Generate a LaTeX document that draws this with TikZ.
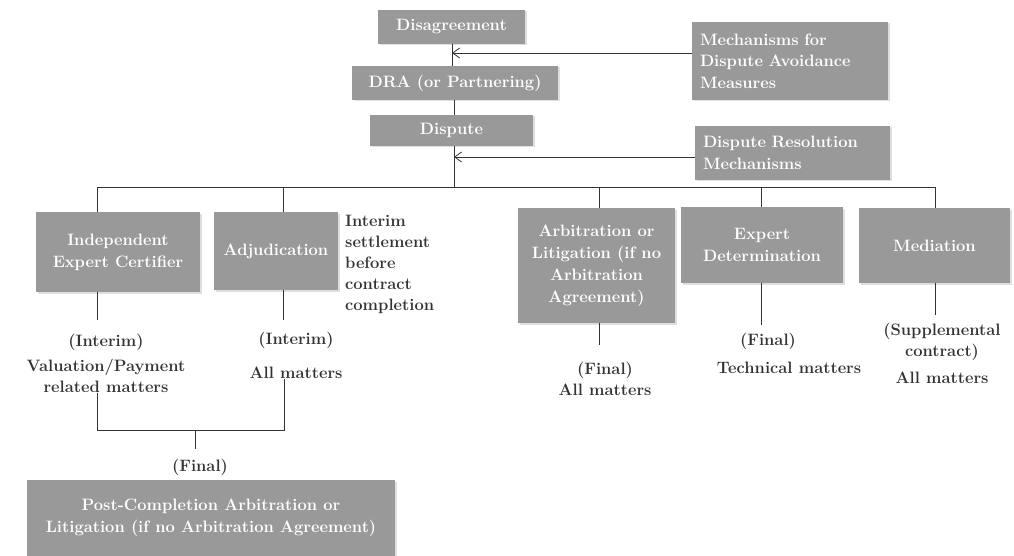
\documentclass[tikz,border=0pt]{standalone}
\usepackage{tikz}
\usetikzlibrary{arrows.meta,positioning,calc,shadows}
\definecolor{boxgray}{HTML}{999999}
\definecolor{ink}{HTML}{333333}

\begin{document}
\begin{tikzpicture}[x=1pt,y=-1pt,
  box/.style={fill=boxgray,text=white,align=center,inner sep=2pt,
    font=\fontsize{16.5}{22}\selectfont\bfseries,
    drop shadow={opacity=0.25,shadow xshift=1.5pt,shadow yshift=-1.5pt}},
  sidebox/.style={box,align=left,inner xsep=8pt,font=\fontsize{16.5}{21.5}\selectfont\bfseries},
  note/.style={text=ink,align=center,inner sep=1pt,font=\fontsize{16.5}{21}\selectfont\bfseries},
  link/.style={draw=ink,line width=0.8pt},
  tip/.style={link,-{Straight Barb[length=7pt,width=10pt]}}]
\useasboundingbox (0,0) rectangle (1014,556);

% upper chain
\node[box,minimum width=147pt,minimum height=34pt] (dis) at (451.5,27) {Disagreement};
\node[box,minimum width=206pt,minimum height=34pt] (dra) at (455,83) {DRA (or Partnering)};
\node[box,minimum width=163pt,minimum height=31pt] (dsp) at (451.5,130.5) {Dispute};
\node[sidebox,text width=180pt,minimum height=78pt] (avoid) at (790,61)
  {Mechanisms for\\Dispute Avoidance\\Measures};
\node[sidebox,text width=179pt,minimum height=54pt] (drm) at (792.5,153)
  {Dispute Resolution\\Mechanisms};

% the five routes
\node[box,minimum width=164pt,minimum height=80pt] (iec) at (118,252) {Independent\\Expert Certifier};
\node[box,minimum width=124pt,minimum height=78pt] (adj) at (276,251) {Adjudication};
\node[box,minimum width=157pt,minimum height=115pt] (arb) at (596.5,265.5)
  {Arbitration or\\Litigation (if no\\Arbitration\\Agreement)};
\node[box,minimum width=162pt,minimum height=76pt] (exp) at (762,245) {Expert\\Determination};
\node[box,minimum width=151pt,minimum height=75pt] (med) at (934.5,245.5) {Mediation};
\node[box,minimum width=368pt,minimum height=76pt] (post) at (211,518)
  {Post-Completion Arbitration or\\Litigation (if no Arbitration Agreement)};

% notes
\node[note,align=left,anchor=north west] (adjside) at (344,214)
  {Interim\\settlement\\before\\contract\\completion};
\node[note] (iecnote) at (106,363) {(Interim)\\[4pt]Valuation/Payment\\related matters};
\node[note] (adjnote) at (296,355) {(Interim)\\[13pt]All matters};
\node[note] (arbnote) at (605,379) {(Final)\\All matters};
\node[note] (expfin) at (768,341) {(Final)};
\node[note] (exptec) at (789,368) {Technical matters};
\node[note] (mednote) at (942,353) {(Supplemental\\contract)\\[6pt]All matters};
\node[note] (fnl) at (200,467) {(Final)};

% connectors
\coordinate (t1) at (452,53);
\coordinate (t2) at (454,157);
\coordinate (b-iec) at (97,187);
\coordinate (b-adj) at (283,187);
\coordinate (b-arb) at (599,187);
\coordinate (b-exp) at (761,187);
\coordinate (b-med) at (935,187);
\coordinate (m1) at (97,430);
\coordinate (m2) at (284,430);
\coordinate (m0) at (195,430);

\draw[link] (dis.south -| t1) -- (t1 |- dra.north);
\draw[tip] (avoid.west |- t1) -- (t1);
\draw[link] (dsp.north -| t2) -- (t2 |- dra.south);
\draw[tip] (drm.west |- t2) -- (t2);
\draw[link] (t2 |- dsp.south) -- (t2 |- b-iec);
\draw[link] (b-iec) -- (b-med);
\foreach \n in {iec,adj,arb,exp,med}
  \draw[link] (b-\n) -- (b-\n |- \n.north);
\draw[link] (b-iec |- iec.south) -- ++(0,28);
\draw[link] (b-adj |- adj.south) -- ++(0,30);
\draw[link] (b-arb |- arb.south) -- ++(0,22);
\draw[link] (b-exp |- exp.south) -- ++(0,42);
\draw[link] (b-med |- med.south) -- ++(0,32);
\draw[link] (m1 |- iecnote.south) -- (m1) -- (m2) -- (m2 |- adjnote.south);
\draw[link] (m0) -- ++(0,19);
\end{tikzpicture}
\end{document}
